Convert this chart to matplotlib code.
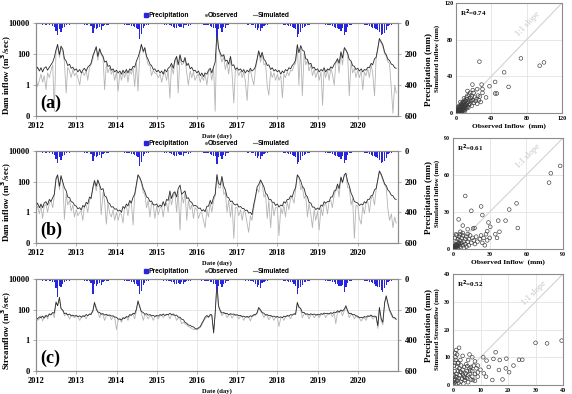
import numpy as np
import pandas as pd
import matplotlib
matplotlib.use("Agg")
import matplotlib.pyplot as plt
import matplotlib.dates as mdates
from matplotlib.lines import Line2D

plt.rcParams["font.family"] = "Liberation Serif"
plt.rcParams["font.weight"] = "bold"
plt.rcParams["axes.labelweight"] = "bold"

# ============================================================
# DATA (semi-monthly values, 2012-2020)
# ============================================================

dates = pd.date_range("2012-01-01", periods=216, freq="SMS")

# (a) dam inflow, m3/s
sim_a = [
    [9, 14, 8, 13, 7, 12, 15, 9, 14, 20, 30, 60, 180, 420, 90, 320, 200, 50, 35, 18, 22, 12, 14, 9],
    [11, 7, 10, 6, 9, 12, 8, 14, 18, 25, 80, 140, 300, 70, 220, 110, 70, 30, 35, 16, 18, 9, 11, 7],
    [9, 6, 8, 5, 9, 6, 10, 6, 11, 9, 16, 14, 35, 60, 150, 420, 150, 260, 70, 45, 22, 18, 10, 11],
    [7, 9, 6, 8, 5, 10, 7, 12, 15, 25, 12, 40, 70, 20, 90, 35, 30, 60, 18, 25, 11, 14, 8, 9],
    [6, 8, 4, 6, 3.5, 6, 5, 9, 12, 6, 15, 30, 2500, 250, 110, 70, 90, 35, 40, 22, 70, 18, 20, 10],
    [13, 9, 11, 7, 10, 6, 9, 7, 12, 8, 10, 15, 50, 160, 60, 130, 45, 35, 18, 20, 10, 13, 8, 10],
    [7, 9, 5, 8, 6, 10, 8, 13, 11, 18, 25, 40, 400, 120, 350, 180, 150, 50, 45, 22, 25, 12, 14, 9],
    [11, 7, 10, 8, 13, 7, 11, 9, 15, 12, 22, 30, 50, 25, 140, 55, 260, 180, 110, 45, 35, 18, 16, 10],
    [12, 8, 11, 7, 10, 9, 14, 13, 25, 20, 50, 60, 250, 1000, 600, 400, 130, 90, 45, 38, 22, 20, 13, 12],
]
obs_a = [
    [3, 0.8, 2, 5, 1.5, 4, 0.5, 6, 3, 8, 20, 0.02, 200, 300, 60, 250, 140, 30, 0.3, 14, 8, 3, 10, 4],
    [6, 3, 1, 5, 7, 4, 9, 2, 14, 20, 50, 150, 250, 40, 200, 90, 55, 0.5, 25, 6, 14, 5, 9, 2],
    [7, 0.4, 6, 2, 7, 3, 8, 1.5, 9, 5, 12, 0.8, 25, 0.4, 120, 380, 120, 200, 60, 20, 18, 4, 9, 6],
    [5, 3, 5, 1.5, 4, 7, 2, 9, 0.14, 18, 5, 30, 60, 0.3, 80, 20, 25, 45, 6, 1, 8, 3, 7, 2],
    [4, 5, 1.5, 4, 2, 5, 1, 7, 9, 2, 12, 0.02, 5000, 200, 80, 30, 70, 10, 30, 5, 50, 6, 0.07, 8],
    [10, 4, 8, 3, 7, 2, 0.1, 5, 9, 3, 1, 10, 40, 130, 30, 110, 20, 25, 0.8, 0.22, 8, 3, 6, 2],
    [5, 2, 4, 0.15, 5, 3, 7, 4, 9, 8, 18, 25, 350, 1, 300, 0.2, 120, 20, 40, 8, 20, 4, 10, 3],
    [8, 2, 7, 0.05, 10, 3, 9, 2, 12, 5, 1, 25, 40, 6, 110, 20, 220, 180, 90, 0.2, 30, 6, 12, 3],
    [9, 3, 8, 0.5, 7, 4, 11, 3, 20, 6, 0.2, 50, 200, 800, 500, 300, 100, 70, 30, 25, 0.5, 0.015, 1, 0.3],
]

# (b) dam inflow, m3/s
sim_b = [
    [2.5, 4, 2, 3.5, 2, 4, 5, 3, 7, 5, 9, 15, 150, 280, 50, 250, 90, 40, 25, 10, 9, 5, 4.5, 3],
    [2.5, 1.7, 2, 1.4, 2.8, 2.2, 4.5, 3.5, 10, 8, 45, 120, 50, 130, 60, 30, 35, 12, 10, 4.5, 3.5, 2.2, 2.3, 1.6],
    [1.7, 1.2, 1.4, 1, 2.4, 1.8, 3.5, 2.6, 6, 4, 10, 15, 70, 280, 180, 100, 35, 22, 10, 9, 5, 5.5, 3.2, 3],
    [3.5, 2.2, 3, 2.4, 5, 2.6, 7, 6, 25, 8, 18, 22, 10, 35, 60, 15, 20, 25, 8, 9, 5, 4.5, 2.6, 2.8],
    [2.5, 1.8, 1.9, 1.2, 1.5, 1.1, 2.5, 2.5, 6, 3.5, 10, 15, 280, 80, 60, 220, 50, 30, 10, 9, 5, 5.5, 3.5, 3],
    [3.5, 2.2, 2.4, 1.8, 1.8, 1.3, 1.4, 0.9, 1, 0.7, 3.5, 10, 45, 65, 130, 80, 45, 18, 14, 7, 7, 4.5, 4.5, 2.8],
    [3.5, 2.2, 3, 2.6, 5, 4, 7, 7, 12, 10, 25, 40, 280, 200, 110, 50, 35, 14, 10, 4.5, 4, 2.2, 2.2, 1.5],
    [1.9, 1.5, 3, 2.5, 5, 4, 5, 5, 10, 10, 25, 28, 70, 35, 200, 90, 280, 360, 100, 55, 18, 11, 5, 4.5],
    [4, 2.8, 3.5, 3, 5, 4, 7, 7, 12, 13, 30, 35, 150, 500, 300, 160, 70, 55, 28, 22, 13, 12, 7.5, 7],
]
obs_b = [
    [1.5, 2.5, 0.8, 3, 0.4, 2.5, 3.5, 1, 4, 6, 2, 12, 180, 250, 30, 200, 80, 0.35, 15, 3, 6, 1.2, 3, 0.5],
    [1.5, 0.6, 1, 1.2, 0.3, 2.5, 3, 1, 6, 10, 30, 100, 25, 110, 60, 0.7, 20, 5, 0.17, 4, 0.8, 0.5, 1.5, 0.3],
    [1, 0.3, 0.9, 0.7, 0.2, 2, 2.5, 0.6, 4, 5, 0.15, 12, 50, 250, 150, 80, 20, 15, 2, 6, 0.5, 4, 3, 0.4],
    [2.5, 0.7, 2, 2.5, 0.5, 2.5, 4, 1, 15, 3, 12, 20, 1, 25, 0.07, 15, 4, 20, 0.3, 6, 1.5, 3, 0.4, 2],
    [1.5, 0.4, 1, 0.9, 0.3, 0.1, 1.5, 0.5, 4, 1, 6, 12, 300, 40, 40, 180, 15, 20, 1, 6, 0.5, 4, 0.02, 2],
    [2, 0.6, 1.5, 0.3, 1.2, 1, 0.2, 0.05, 0.6, 0.3, 2, 8, 35, 20, 110, 80, 10, 15, 0.4, 6, 0.1, 4, 0.6, 2],
    [2, 0.03, 2, 0.8, 3, 0.5, 5, 1.5, 8, 10, 4, 30, 250, 200, 30, 50, 8, 12, 0.5, 4, 0.7, 0.1, 1.5, 0.3],
    [1.2, 0.07, 2, 0.6, 3, 4, 0.8, 5, 6, 2, 15, 25, 50, 10, 180, 80, 250, 300, 40, 40, 3, 8, 0.02, 3],
    [2.5, 0.4, 0.17, 2.5, 0.8, 4, 5, 1, 8, 12, 3, 30, 120, 450, 250, 120, 60, 40, 1.5, 0.3, 0.8, 0.1, 0.5, 0.2],
]

# (c) streamflow, m3/s
sim_c = [
    [30, 25, 34, 30, 38, 28, 42, 36, 52, 45, 65, 60, 300, 180, 630, 120, 90, 55, 60, 45, 52, 40, 44, 38],
    [42, 35, 40, 32, 40, 36, 48, 40, 52, 48, 90, 300, 110, 70, 65, 50, 55, 44, 50, 42, 45, 38, 40, 33],
    [32, 24, 25, 21, 30, 26, 36, 32, 48, 42, 58, 52, 110, 380, 140, 75, 65, 50, 55, 44, 48, 40, 42, 36],
    [42, 38, 48, 42, 52, 42, 50, 46, 58, 48, 52, 42, 44, 33, 32, 24, 22, 15, 13, 10, 9.5, 8, 7.5, 6],
    [5.5, 6.5, 8, 13, 20, 32, 42, 33, 48, 46, 3, 60, 6000, 180, 85, 60, 65, 55, 58, 46, 55, 50, 52, 45],
    [47, 40, 42, 36, 38, 33, 36, 32, 40, 36, 48, 46, 65, 140, 95, 65, 58, 45, 48, 40, 42, 36, 38, 33],
    [36, 31, 34, 30, 38, 34, 42, 38, 48, 44, 54, 50, 300, 140, 120, 65, 65, 50, 54, 45, 54, 48, 52, 45],
    [50, 45, 55, 50, 60, 55, 58, 52, 64, 56, 70, 62, 85, 70, 95, 80, 110, 180, 85, 55, 58, 46, 48, 40],
    [37, 30, 32, 29, 36, 32, 40, 36, 45, 35, 38, 36, 9, 140, 25, 15, 300, 800, 250, 100, 55, 32, 30, 24],
]
obs_c = [
    [35, 20, 25, 40, 18, 35, 45, 25, 55, 50, 65, 30, 350, 180, 500, 120, 90, 40, 50, 45, 25, 40, 38, 30],
    [38, 35, 20, 30, 35, 42, 25, 45, 50, 60, 70, 250, 150, 80, 30, 60, 45, 20, 40, 45, 38, 22, 35, 32],
    [5, 20, 25, 15, 28, 30, 32, 20, 42, 45, 50, 25, 90, 300, 180, 60, 20, 50, 40, 25, 40, 38, 20, 35],
    [38, 25, 42, 45, 30, 40, 45, 50, 25, 45, 42, 40, 20, 30, 25, 12, 15, 12, 10, 8, 7, 6, 5, 5],
    [5, 5.5, 7, 10, 18, 25, 35, 30, 40, 45, 4, 55, 5000, 150, 70, 40, 55, 60, 30, 45, 48, 28, 45, 42],
    [40, 25, 36, 35, 20, 32, 30, 33, 18, 38, 40, 45, 55, 120, 80, 60, 30, 45, 40, 22, 36, 35, 20, 32],
    [30, 8, 30, 32, 20, 35, 38, 40, 25, 45, 48, 50, 250, 180, 100, 30, 55, 50, 45, 25, 45, 48, 30, 42],
    [45, 30, 48, 50, 52, 30, 50, 52, 55, 35, 60, 12, 70, 65, 80, 40, 90, 150, 70, 30, 50, 45, 25, 38],
    [30, 28, 18, 28, 30, 20, 35, 38, 40, 25, 30, 35, 6, 100, 18, 10, 250, 700, 200, 80, 40, 30, 25, 22],
]

# precipitation, mm
rain_ab = [
    [3, 5, 8, 2, 10, 6, 12, 5, 15, 8, 20, 25, 50, 77, 40, 56, 30, 25, 12, 8, 10, 5, 8, 4],
    [4, 3, 6, 8, 5, 12, 10, 15, 8, 20, 67, 30, 40, 35, 25, 45, 20, 15, 10, 12, 8, 5, 4, 6],
    [3, 4, 6, 5, 8, 10, 12, 15, 10, 20, 18, 25, 30, 40, 100, 70, 35, 20, 15, 10, 8, 6, 5, 4],
    [5, 4, 3, 6, 8, 10, 12, 8, 15, 20, 25, 30, 35, 20, 28, 25, 30, 15, 12, 20, 10, 8, 6, 5],
    [4, 5, 6, 8, 10, 12, 15, 10, 20, 25, 30, 35, 88, 40, 30, 55, 25, 30, 15, 10, 8, 6, 5, 4],
    [3, 4, 5, 3, 6, 8, 10, 12, 8, 10, 15, 30, 45, 35, 50, 30, 20, 15, 10, 8, 6, 5, 4, 3],
    [4, 5, 6, 8, 10, 12, 15, 20, 18, 25, 30, 40, 88, 70, 60, 35, 25, 20, 15, 10, 8, 6, 5, 4],
    [3, 4, 5, 6, 8, 10, 12, 15, 10, 20, 25, 30, 35, 40, 50, 35, 77, 60, 25, 15, 10, 8, 6, 5],
    [4, 5, 6, 8, 10, 12, 15, 20, 25, 30, 35, 40, 45, 60, 77, 70, 67, 45, 20, 15, 10, 8, 6, 5],
]
rain_c = [
    [3, 6, 8, 3, 12, 5, 10, 6, 15, 10, 22, 20, 60, 116, 45, 50, 35, 20, 10, 8, 10, 6, 7, 4],
    [5, 3, 5, 8, 6, 10, 12, 14, 10, 25, 95, 35, 45, 30, 25, 40, 18, 15, 12, 10, 8, 6, 4, 5],
    [3, 5, 6, 4, 8, 12, 10, 15, 12, 18, 20, 30, 35, 45, 95, 80, 40, 25, 12, 10, 8, 6, 5, 4],
    [4, 5, 4, 6, 10, 8, 12, 10, 15, 22, 20, 35, 30, 25, 30, 20, 35, 18, 10, 15, 12, 8, 5, 4],
    [5, 4, 6, 10, 8, 12, 15, 12, 18, 22, 35, 30, 73, 45, 35, 50, 30, 25, 12, 10, 8, 6, 4, 5],
    [4, 3, 5, 4, 6, 10, 8, 12, 10, 12, 18, 35, 55, 40, 60, 25, 22, 15, 10, 8, 6, 5, 4, 3],
    [3, 5, 6, 8, 12, 10, 15, 18, 20, 22, 35, 45, 95, 60, 55, 40, 20, 22, 15, 10, 8, 6, 5, 4],
    [4, 3, 5, 6, 8, 12, 10, 15, 12, 22, 20, 35, 30, 45, 45, 40, 83, 50, 25, 15, 10, 8, 6, 5],
    [5, 4, 6, 8, 10, 12, 15, 18, 22, 28, 30, 45, 50, 55, 73, 83, 60, 40, 20, 15, 10, 8, 6, 5],
]

# scatter points (observed mm, simulated mm)
pts_a = [
    (0.3, 0.5), (0.5, 1.2), (0.8, 0.3), (1, 2), (1.2, 0.8), (1.5, 3), (1.8, 1.5), (2, 0.5), (2.2, 2.5),
    (2.5, 4), (2.8, 1), (3, 2), (3.2, 5), (3.5, 3), (3.8, 0.8), (4, 6), (4.2, 2), (4.5, 4), (5, 1.5),
    (5, 7), (5.5, 3), (6, 5), (6, 9), (6.5, 2), (7, 6), (7, 4), (7.5, 8), (8, 3), (8, 10), (8.5, 6),
    (9, 5), (9, 12), (9.5, 8), (10, 4), (10, 7), (10.5, 10), (11, 13), (11, 6), (12, 9), (12, 15),
    (12.5, 11), (13, 7), (13, 19), (14, 12), (14.5, 9), (15, 14), (15, 20), (16, 10), (16.5, 16),
    (17, 13), (18, 8), (18, 18), (19, 14), (20, 11), (20, 22), (21, 17), (22, 13), (23, 15), (24, 10),
    (25, 19), (26, 14), (27, 18), (28, 12), (30, 22), (0.2, 0.2), (0.5, 0.2), (1, 1), (1.5, 0.5),
    (2, 1.5), (3, 0.5), (2.5, 2), (4, 1), (1, 3), (0.5, 2.5), (3, 4), (5, 4), (6, 3), (2, 6), (3, 7),
    (4, 8), (7, 2), (8, 5), (6, 7), (10, 2), (9, 3), (12, 5), (14, 6), (11, 9), (7, 11), (8, 12),
    (10, 14), (12, 17), (9, 16), (6, 10), (5, 12),
    (26.5, 56), (73.5, 59.6), (94.7, 51.6), (99.6, 55.2), (54.5, 44.4), (44.3, 33.9), (59.5, 28.5),
    (37.9, 29.2), (44.3, 21.3), (46.2, 21.3), (34, 17), (29, 31), (18.6, 31), (24, 26), (19, 25),
    (16, 22), (13, 24), (30, 26),
]
pts_b = [
    (0.3, 0.5), (0.5, 1.5), (1, 0.3), (1, 2.5), (1.5, 1), (2, 3), (2, 0.5), (2.5, 4), (3, 1.5), (3, 6),
    (3.5, 2.5), (4, 8), (4, 1), (4.5, 5), (5, 3), (5, 10), (5.5, 7), (6, 2), (6, 12), (7, 5), (7, 9),
    (8, 3), (8, 11), (9, 6), (9, 1), (10, 8), (10, 4), (11, 10), (11, 2), (12, 6), (13, 8), (13, 3),
    (14, 11), (15, 5), (16, 9), (17, 7), (18, 4), (19, 10), (20, 6), (22, 8), (23, 11), (24, 5),
    (25, 9), (26, 3), (27, 12), (28, 7), (1.5, 9), (2.5, 12), (3, 11), (6, 14), (8, 13), (12, 12),
    (0.2, 0.2), (0.8, 0.8), (1.5, 2), (2, 1.5), (2.5, 2.5), (3, 3.5), (3.5, 0.8), (4, 3), (5, 5), (6, 4),
    (10, 43), (15, 31), (23, 34.5), (24, 27.5), (4.6, 24), (8, 19), (12, 16), (17.7, 17), (16.4, 16.6),
    (29, 21.5), (37, 23), (43, 23), (46, 32), (52, 37), (53, 17), (38, 14), (34.6, 12), (36, 9),
    (30, 9), (28, 14.4), (30.5, 18), (87.7, 67.4), (80, 61.4), (78.6, 53.8),
]
pts_c = [
    (0.2, 0.3), (0.5, 1), (0.8, 2), (1, 0.5), (1, 3), (1.2, 4), (1.5, 1.5), (1.8, 5), (2, 2.5), (2, 0.8),
    (2.3, 6), (2.5, 3.5), (2.8, 1.2), (3, 4.5), (3, 7), (3.3, 2.2), (3.5, 5.5), (3.8, 0.5), (4, 3),
    (4, 6.5), (4.3, 1.8), (4.5, 4.2), (4.8, 7.5), (5, 2.5), (5, 5), (5.5, 3.5), (5.5, 1), (6, 6), (6, 4),
    (6.5, 2), (7, 5), (7, 3), (7.5, 7), (8, 4), (8, 1.5), (8.5, 6), (9, 4.5), (0.5, 5), (0.3, 7),
    (0.6, 8), (1, 9), (1.5, 6.5), (2, 8), (0.4, 3.5), (0.2, 1.8), (1.3, 2.8), (2.6, 4.8), (3.6, 3.8),
    (4.4, 2.6), (5.2, 6.8), (6.3, 5.2), (7.2, 1.8), (0.9, 10), (1.7, 7.8),
    (30, 15.2), (34.2, 15), (39.5, 16), (2.2, 13.4), (1.2, 12.6), (0.8, 11.5), (1.5, 11), (15.5, 11.8),
    (14.7, 9.4), (19.4, 9.5), (17, 9), (24, 9.1), (25.2, 9.1), (11, 10), (12.2, 8.8), (5.5, 9), (2.7, 9),
    (19.2, 6), (20.4, 4.6), (16.7, 5.4), (14.3, 1.8), (11.2, 4.2), (9, 7), (10, 5.5), (13, 6.5),
    (8, 8.5), (7, 10), (3.5, 10.5), (6, 11), (12, 3), (18, 2), (22, 7), (9, 3), (6.5, 6.5),
]

# ============================================================
# STYLE
# ============================================================

OBS_COLOR = "#b4b4b4"
SIM_COLOR = "#2a2a2a"
RAIN_COLOR = "#2626e0"
SPINE_COLOR = "#8c8c8c"
GRID_COLOR = "#e3e3e3"
W, H = 572, 394

fig = plt.figure(figsize=(W / 100, H / 100), dpi=100)


def rect(left, top, right, bottom):
    return [left / W, 1 - bottom / H, (right - left) / W, (bottom - top) / H]


def style_spines(ax):
    for s in ax.spines.values():
        s.set_color(SPINE_COLOR)
        s.set_linewidth(0.8)


def draw_series(box, obs, sim, rain, ylabel, letter):
    ax = fig.add_axes(box)
    ax.plot(dates, np.ravel(obs), color=OBS_COLOR, lw=0.6, zorder=2)
    ax.plot(dates, np.ravel(sim), color=SIM_COLOR, lw=0.6, zorder=3)
    ax.set_yscale("log")
    ax.set_ylim(0.01, 10000)
    ax.set_yticks([0.01, 1, 100, 10000])
    ax.set_yticklabels(["0", "1", "100", "10000"])
    ax.yaxis.set_minor_locator(plt.NullLocator())
    ax.set_xlim(pd.Timestamp("2012-01-01"), pd.Timestamp("2020-12-31"))
    ax.xaxis.set_major_locator(mdates.YearLocator())
    ax.xaxis.set_major_formatter(mdates.DateFormatter("%Y"))
    ax.grid(True, color=GRID_COLOR, lw=0.6)
    ax.set_axisbelow(True)
    ax.tick_params(labelsize=6, length=2, width=0.5, color=SPINE_COLOR, pad=2.5)
    ax.set_ylabel(ylabel, fontsize=6.4)
    ax.yaxis.set_label_coords(-0.062, 0.44)
    ax.set_xlabel("Date (day)", fontsize=4.8)
    ax.xaxis.set_label_coords(0.5, -0.19)
    ax.text(0.012, 0.04, letter, transform=ax.transAxes, fontsize=13,
            fontweight="bold", va="bottom", ha="left")
    style_spines(ax)

    ax2 = ax.twinx()
    ax2.bar(dates, np.ravel(rain), width=11, color=RAIN_COLOR, lw=0)
    ax2.set_ylim(600, 0)
    ax2.set_yticks([0, 200, 400, 600])
    ax2.tick_params(labelsize=6, length=2, width=0.5, color=SPINE_COLOR, pad=3)
    ax2.set_ylabel("Precipitation (mm)", fontsize=6.5, labelpad=5)
    style_spines(ax2)

    handles = [
        Line2D([], [], marker="s", ls="", color=RAIN_COLOR, ms=2.5),
        Line2D([], [], marker=".", ls="", color="#777777", ms=2.5),
        Line2D([], [], color="#777777", lw=0.8),
    ]
    ax.legend(handles, ["Precipitation", "Observed", "Simulated"], loc="lower center",
              bbox_to_anchor=(0.5, 1.0), ncol=3, frameon=False, borderpad=0.1,
              handlelength=0.5, handletextpad=0.15, columnspacing=2.2,
              prop=dict(family="Liberation Sans", weight="bold", size=4.8))
    return ax


def draw_scatter(box, pts, lim, ticks, r2, ylabel, xlabel, txt_xy, angle):
    pts = np.array(pts)
    ax = fig.add_axes(box)
    ax.plot([0, lim], [0, lim], color="#d2d2d2", lw=0.8, zorder=1)
    ax.scatter(pts[:, 0], pts[:, 1], s=7, facecolors="none", edgecolors="#3a3a3a",
               linewidths=0.45, zorder=3)
    ax.set_xlim(0, lim)
    ax.set_ylim(0, lim)
    ax.set_xticks(ticks)
    ax.set_yticks(ticks)
    ax.grid(True, color=GRID_COLOR, lw=0.6)
    ax.set_axisbelow(True)
    ax.tick_params(labelsize=4.3, length=0, pad=2)
    ax.set_ylabel(ylabel, fontsize=4.9, labelpad=3)
    if xlabel:
        ax.set_xlabel(xlabel, fontsize=5.3, labelpad=2)
    ax.text(0.04, 0.955, r2, transform=ax.transAxes, fontsize=5, va="top", ha="left")
    ax.text(txt_xy[0], txt_xy[1], "1:1 slope", transform=ax.transAxes, fontsize=6,
            color="#c4c4c4", rotation=angle, ha="center", va="center", fontweight="normal")
    style_spines(ax)
    return ax


# ============================================================
# TIME SERIES PANELS
# ============================================================

draw_series(rect(36, 23, 398, 116), obs_a, sim_a, rain_ab, "Dam inflow (m$^3$/sec)", "(a)")
draw_series(rect(36, 151, 398, 243), obs_b, sim_b, rain_ab, "Dam inflow (m$^3$/sec)", "(b)")
draw_series(rect(36, 279, 398, 371), obs_c, sim_c, rain_c, "Streamflow (m$^3$/sec)", "(c)")

# ============================================================
# SCATTER PANELS
# ============================================================

draw_scatter(rect(456, 3, 562, 113), pts_a, 120, [0, 40, 80, 120], "R$^2$=0.74",
             "Simulated Inflow (mm)", "Observed Inflow  (mm)", (0.68, 0.81), 46)
draw_scatter(rect(453, 138, 563, 249), pts_b, 90, [0, 30, 60, 90], "R$^2$=0.61",
             "Simulated Inflow (mm)", "Observed Inflow  (mm)", (0.68, 0.84), 45)
draw_scatter(rect(453, 274, 563, 385), pts_c, 40, [0, 10, 20, 30, 40], "R$^2$=0.52",
             "Simulated Streamflow (mm)", None, (0.74, 0.83), 45)

fig.savefig("out.png", dpi=100)
